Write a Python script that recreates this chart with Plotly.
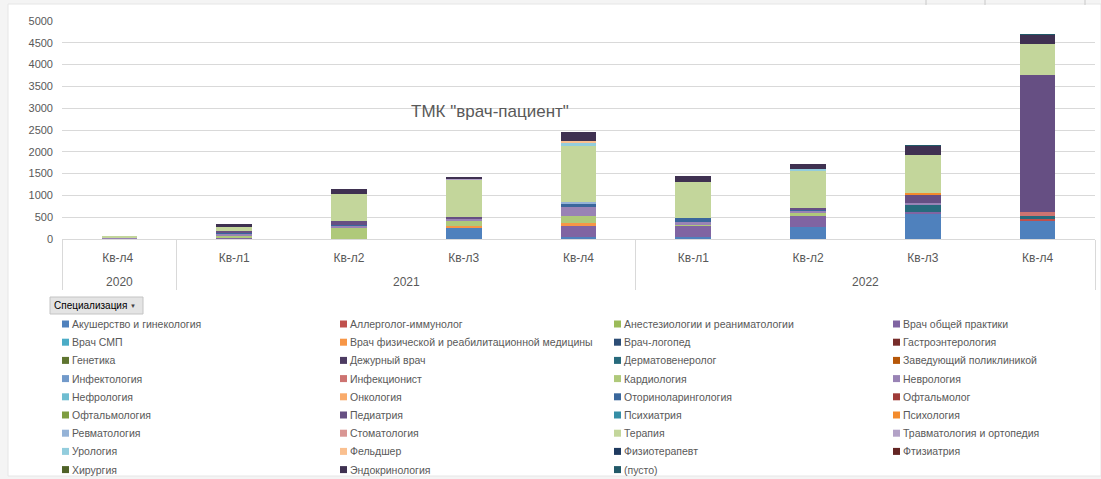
import plotly.graph_objects as go

# ---- categories ----
years = ["2020", "2021", "2021", "2021", "2021", "2022", "2022", "2022", "2022"]
# trailing space on the 2020 quarter keeps plotly's multicategory order chronological
quarters = ["Кв-л4 ", "Кв-л1", "Кв-л2", "Кв-л3", "Кв-л4", "Кв-л1", "Кв-л2", "Кв-л3", "Кв-л4"]

# ---- series (legend order = stacking order) ----
specialities = [
    "Акушерство и гинекология", "Аллерголог-иммунолог", "Анестезиологии и реаниматологии",
    "Врач общей практики", "Врач СМП", "Врач физической и реабилитационной медицины",
    "Врач-логопед", "Гастроэнтерология", "Генетика", "Дежурный врач", "Дерматовенеролог",
    "Заведующий поликлиникой", "Инфектология", "Инфекционист", "Кардиология", "Неврология",
    "Нефрология", "Онкология", "Оториноларингология", "Офтальмолог", "Офтальмология",
    "Педиатрия", "Психиатрия", "Психология", "Ревматология", "Стоматология", "Терапия",
    "Травматология и ортопедия", "Урология", "Фельдшер", "Физиотерапевт", "Фтизиатрия",
    "Хирургия", "Эндокринология", "(пусто)",
]

akusherstvo = [0, 15, 0, 245, 40, 40, 280, 575, 435]
allergolog = [0, 0, 0, 0, 0, 0, 0, 0, 20]
anesteziologia = [0, 0, 0, 0, 0, 0, 0, 0, 0]
vop = [0, 25, 0, 0, 275, 260, 270, 55, 0]
smp = [0, 0, 0, 0, 0, 0, 0, 0, 0]
fiz_reab = [0, 0, 0, 50, 45, 0, 0, 0, 0]
logoped = [0, 0, 0, 0, 0, 0, 0, 0, 0]
gastro = [0, 0, 0, 0, 0, 0, 0, 0, 0]
genetika = [0, 0, 0, 0, 0, 0, 0, 0, 0]
dezhurny = [0, 0, 0, 0, 0, 0, 0, 0, 0]
dermato = [0, 0, 0, 0, 0, 0, 0, 150, 75]
zaveduyushchiy = [0, 0, 0, 0, 0, 0, 0, 0, 0]
infektologia = [0, 0, 0, 0, 0, 0, 0, 0, 0]
infekcionist = [0, 0, 0, 0, 0, 0, 0, 0, 78]
kardiologia = [20, 45, 270, 140, 175, 30, 40, 0, 0]
nevrologia = [5, 40, 40, 40, 190, 70, 60, 55, 0]
nefrologia = [0, 0, 0, 0, 0, 0, 0, 0, 0]
onkologia = [0, 0, 0, 0, 0, 0, 0, 0, 0]
otorino = [0, 20, 20, 0, 90, 90, 20, 0, 0]
oftalmolog = [0, 0, 0, 0, 0, 0, 0, 0, 0]
oftalmologia = [0, 0, 0, 0, 0, 0, 0, 0, 0]
pediatria = [0, 30, 80, 35, 0, 0, 40, 190, 3165]
psihiatria = [0, 0, 0, 0, 0, 0, 0, 0, 0]
psihologia = [0, 0, 0, 0, 0, 0, 0, 25, 0]
revmatologia = [0, 0, 0, 0, 35, 0, 0, 0, 0]
stomatologia = [0, 0, 0, 0, 0, 0, 0, 0, 0]
terapia = [45, 90, 630, 850, 1285, 820, 850, 880, 695]
travmatologia = [0, 0, 0, 30, 0, 0, 0, 0, 0]
urologia = [0, 0, 0, 0, 85, 0, 45, 0, 0]
feldsher = [0, 0, 0, 0, 25, 0, 0, 0, 0]
fizioterapevt = [0, 0, 0, 0, 0, 0, 0, 0, 0]
ftiziatria = [0, 0, 0, 0, 0, 0, 0, 0, 0]
hirurgia = [0, 0, 0, 0, 0, 0, 0, 0, 0]
endokrinologia = [0, 70, 115, 30, 220, 140, 108, 205, 222]
pusto = [0, 0, 0, 0, 0, 0, 0, 10, 10]

series_values = [
    akusherstvo, allergolog, anesteziologia, vop, smp, fiz_reab, logoped, gastro, genetika,
    dezhurny, dermato, zaveduyushchiy, infektologia, infekcionist, kardiologia, nevrologia,
    nefrologia, onkologia, otorino, oftalmolog, oftalmologia, pediatria, psihiatria,
    psihologia, revmatologia, stomatologia, terapia, travmatologia, urologia, feldsher,
    fizioterapevt, ftiziatria, hirurgia, endokrinologia, pusto,
]

colors = [
    "#4F81BD", "#C0504D", "#9BBB59", "#8064A2", "#4BACC6", "#F79646",
    "#2C4D75", "#772C2A", "#5F7530", "#4D3B62", "#276A7C", "#B65708",
    "#729ACA", "#CD7371", "#AFC97A", "#9983B5", "#6FBDD1", "#F9AB6B",
    "#3A679C", "#9F3B38", "#7E9D40", "#664F83", "#358EA6", "#F38B2D",
    "#95B3D7", "#D99694", "#C3D69B", "#B3A2C7", "#93CDDD", "#FAC090",
    "#1F3A5F", "#632523", "#4F6228", "#3F3151", "#215968",
]

W, H = 1101, 479
L, R, T, B = 62, 6, 21, 240
PW, PH = W - L - R, H - T - B


def px(x):
    return (x - L) / PW


def py(y):
    return (H - B - y) / PH


# inner labels get an empty second line so the year row sits lower, like Excel
quarter_labels = [q + "<br>\u00a0" for q in quarters]

fig = go.Figure()
for name, vals, col in zip(specialities, series_values, colors):
    fig.add_trace(go.Bar(
        x=[years, quarter_labels], y=vals, name=name,
        marker=dict(color=col, line=dict(width=0)),
        showlegend=False,
    ))

shapes = []
annotations = []

# chart area background
shapes.append(dict(type="rect", xref="paper", yref="paper", layer="below",
                   x0=px(8), x1=px(1101), y0=py(476), y1=py(4),
                   fillcolor="white", line=dict(color="#E6E6E6", width=1)))
# cropped pivot buttons at top right
for xx in (926, 985, 1085):
    shapes.append(dict(type="line", xref="paper", yref="paper",
                       x0=px(xx), x1=px(xx), y0=py(0), y1=py(5),
                       line=dict(color="#C8C8C8", width=1)))

# title
annotations.append(dict(text='ТМК "врач-пациент"', x=px(490), y=py(111), xref="paper", yref="paper",
                        showarrow=False, xanchor="center", yanchor="middle",
                        font=dict(size=17, color="#595959")))

# field button
shapes.append(dict(type="rect", xref="paper", yref="paper",
                   x0=px(50), x1=px(143), y0=py(314), y1=py(297),
                   fillcolor="#E4E4E4", line=dict(color="#C4C4C4", width=1)))
annotations.append(dict(text="Специализация", x=px(52), y=py(305.5), xref="paper", yref="paper",
                        showarrow=False, xanchor="left", yanchor="middle",
                        font=dict(size=10, color="#000000")))
annotations.append(dict(text="▼", x=px(133), y=py(305.5), xref="paper", yref="paper",
                        showarrow=False, xanchor="center", yanchor="middle",
                        font=dict(size=6, color="#404040")))

# custom legend: 4 columns, row-major
col_x = [62, 340, 614, 893]
row_y0, row_dy = 324, 18.2
for i, (name, col) in enumerate(zip(specialities, colors)):
    r, c = divmod(i, 4)
    mx = col_x[c]
    my = row_y0 + r * row_dy
    shapes.append(dict(type="rect", xref="paper", yref="paper",
                       x0=px(mx), x1=px(mx + 7), y0=py(my + 3.5), y1=py(my - 3.5),
                       fillcolor=col, line=dict(width=0)))
    annotations.append(dict(text=name, x=px(mx + 8), y=py(my), xref="paper", yref="paper",
                            showarrow=False, xanchor="left", yanchor="middle",
                            font=dict(size=10.5, color="#595959")))

fig.update_layout(
    width=W, height=H,
    margin=dict(l=L, r=R, t=T, b=B),
    barmode="stack", bargap=0.69,
    paper_bgcolor="#F4F4F4", plot_bgcolor="rgba(0,0,0,0)",
    font=dict(family="Liberation Sans, Arial, sans-serif", color="#595959"),
    shapes=shapes, annotations=annotations,
    xaxis=dict(type="multicategory", showgrid=False, showline=True, linecolor="#D9D9D9",
               showdividers=True, dividercolor="#D9D9D9", dividerwidth=1,
               tickfont=dict(size=12, color="#595959"), ticks="", ticklabelstandoff=8),
    yaxis=dict(range=[0, 5000], dtick=500, showgrid=True, gridcolor="#D9D9D9",
               zeroline=False, ticks="", ticklabelstandoff=8,
               tickfont=dict(size=11, color="#595959")),
)

fig.write_html("out.html", config={"displayModeBar": False},
               post_script="document.body.style.margin='0';")
